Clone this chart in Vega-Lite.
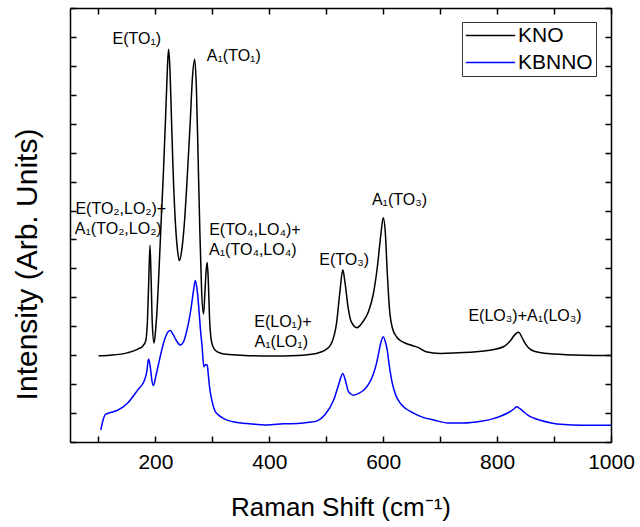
{
  "$schema": "https://vega.github.io/schema/vega-lite/v6.json",
  "width": 541,
  "height": 434,
  "autosize": "none",
  "padding": {"left": 70, "top": 8, "right": 29, "bottom": 85},
  "background": "white",
  "config": {
    "view": {"stroke": null},
    "font": "Liberation Sans",
    "axis": {"grid": false, "domainColor": "black", "domainWidth": 1.5, "tickColor": "black", "tickWidth": 1.5, "labelColor": "black", "titleColor": "black", "titleFontWeight": "normal", "labelFont": "Liberation Sans", "titleFont": "Liberation Sans"}
  },
  "datasets": {
    "spec": [
      {"x": 100, "y": 2.98, "s": "KNO"}, {"x": 120, "y": 3.0, "s": "KNO"}, {"x": 150, "y": 3.08, "s": "KNO"}, {"x": 170, "y": 3.22, "s": "KNO"}, {"x": 178, "y": 3.32, "s": "KNO"}, {"x": 183, "y": 3.5, "s": "KNO"}, {"x": 186, "y": 4.2, "s": "KNO"}, {"x": 188, "y": 5.4, "s": "KNO"}, {"x": 190.5, "y": 6.8, "s": "KNO"}, {"x": 192.5, "y": 5.6, "s": "KNO"}, {"x": 194.5, "y": 4.1, "s": "KNO"}, {"x": 197.5, "y": 3.42, "s": "KNO"}, {"x": 200, "y": 3.8, "s": "KNO"}, {"x": 203, "y": 4.6, "s": "KNO"}, {"x": 206, "y": 5.8, "s": "KNO"}, {"x": 210, "y": 7.6, "s": "KNO"}, {"x": 214, "y": 9.3, "s": "KNO"}, {"x": 218, "y": 11.3, "s": "KNO"}, {"x": 221, "y": 12.9, "s": "KNO"}, {"x": 223, "y": 13.57, "s": "KNO"}, {"x": 225.5, "y": 12.9, "s": "KNO"}, {"x": 228, "y": 11.3, "s": "KNO"}, {"x": 231, "y": 9.4, "s": "KNO"}, {"x": 235, "y": 7.6, "s": "KNO"}, {"x": 239, "y": 6.6, "s": "KNO"}, {"x": 242, "y": 6.27, "s": "KNO"}, {"x": 246, "y": 6.6, "s": "KNO"}, {"x": 251, "y": 7.6, "s": "KNO"}, {"x": 256, "y": 9.2, "s": "KNO"}, {"x": 261, "y": 11.0, "s": "KNO"}, {"x": 265, "y": 12.6, "s": "KNO"}, {"x": 269, "y": 13.23, "s": "KNO"}, {"x": 272, "y": 12.2, "s": "KNO"}, {"x": 275, "y": 9.8, "s": "KNO"}, {"x": 278, "y": 7.3, "s": "KNO"}, {"x": 281, "y": 5.3, "s": "KNO"}, {"x": 284.5, "y": 4.42, "s": "KNO"}, {"x": 287, "y": 5.2, "s": "KNO"}, {"x": 289, "y": 5.9, "s": "KNO"}, {"x": 291, "y": 6.2, "s": "KNO"}, {"x": 293, "y": 5.5, "s": "KNO"}, {"x": 295, "y": 4.3, "s": "KNO"}, {"x": 297.5, "y": 3.6, "s": "KNO"}, {"x": 301, "y": 3.3, "s": "KNO"}, {"x": 308, "y": 3.12, "s": "KNO"}, {"x": 320, "y": 3.04, "s": "KNO"}, {"x": 350, "y": 3.0, "s": "KNO"}, {"x": 400, "y": 2.97, "s": "KNO"}, {"x": 450, "y": 2.99, "s": "KNO"}, {"x": 480, "y": 3.05, "s": "KNO"}, {"x": 500, "y": 3.2, "s": "KNO"}, {"x": 510, "y": 3.45, "s": "KNO"}, {"x": 518, "y": 4.1, "s": "KNO"}, {"x": 524, "y": 5.2, "s": "KNO"}, {"x": 529, "y": 5.95, "s": "KNO"}, {"x": 533, "y": 5.5, "s": "KNO"}, {"x": 538, "y": 4.7, "s": "KNO"}, {"x": 544, "y": 4.15, "s": "KNO"}, {"x": 554, "y": 3.95, "s": "KNO"}, {"x": 564, "y": 4.15, "s": "KNO"}, {"x": 574, "y": 4.5, "s": "KNO"}, {"x": 583, "y": 5.15, "s": "KNO"}, {"x": 590, "y": 6.1, "s": "KNO"}, {"x": 596, "y": 7.2, "s": "KNO"}, {"x": 600, "y": 7.75, "s": "KNO"}, {"x": 603.5, "y": 7.3, "s": "KNO"}, {"x": 607, "y": 5.9, "s": "KNO"}, {"x": 611, "y": 4.6, "s": "KNO"}, {"x": 616, "y": 3.95, "s": "KNO"}, {"x": 624, "y": 3.62, "s": "KNO"}, {"x": 635, "y": 3.45, "s": "KNO"}, {"x": 648, "y": 3.35, "s": "KNO"}, {"x": 660, "y": 3.28, "s": "KNO"}, {"x": 675, "y": 3.12, "s": "KNO"}, {"x": 700, "y": 3.06, "s": "KNO"}, {"x": 750, "y": 3.1, "s": "KNO"}, {"x": 790, "y": 3.18, "s": "KNO"}, {"x": 812, "y": 3.3, "s": "KNO"}, {"x": 824, "y": 3.52, "s": "KNO"}, {"x": 832, "y": 3.73, "s": "KNO"}, {"x": 838, "y": 3.79, "s": "KNO"}, {"x": 844, "y": 3.6, "s": "KNO"}, {"x": 850, "y": 3.38, "s": "KNO"}, {"x": 860, "y": 3.18, "s": "KNO"}, {"x": 875, "y": 3.09, "s": "KNO"}, {"x": 900, "y": 3.04, "s": "KNO"}, {"x": 950, "y": 3.0, "s": "KNO"}, {"x": 1000, "y": 2.99, "s": "KNO"},
      {"x": 104, "y": 0.41, "s": "KBNNO"}, {"x": 108, "y": 0.75, "s": "KBNNO"}, {"x": 112, "y": 0.95, "s": "KBNNO"}, {"x": 118, "y": 1.0, "s": "KBNNO"}, {"x": 134, "y": 1.1, "s": "KBNNO"}, {"x": 151, "y": 1.34, "s": "KBNNO"}, {"x": 169, "y": 1.8, "s": "KBNNO"}, {"x": 181, "y": 2.14, "s": "KBNNO"}, {"x": 185, "y": 2.45, "s": "KBNNO"}, {"x": 188, "y": 2.87, "s": "KBNNO"}, {"x": 191, "y": 2.6, "s": "KBNNO"}, {"x": 194, "y": 2.1, "s": "KBNNO"}, {"x": 196.5, "y": 1.95, "s": "KBNNO"}, {"x": 201, "y": 2.3, "s": "KBNNO"}, {"x": 207, "y": 2.83, "s": "KBNNO"}, {"x": 216, "y": 3.53, "s": "KBNNO"}, {"x": 222, "y": 3.8, "s": "KBNNO"}, {"x": 226, "y": 3.85, "s": "KBNNO"}, {"x": 231, "y": 3.72, "s": "KBNNO"}, {"x": 237, "y": 3.5, "s": "KBNNO"}, {"x": 244, "y": 3.35, "s": "KBNNO"}, {"x": 249, "y": 3.45, "s": "KBNNO"}, {"x": 254, "y": 3.76, "s": "KBNNO"}, {"x": 259, "y": 4.2, "s": "KBNNO"}, {"x": 263, "y": 4.68, "s": "KBNNO"}, {"x": 267, "y": 5.25, "s": "KBNNO"}, {"x": 270, "y": 5.58, "s": "KBNNO"}, {"x": 273, "y": 5.3, "s": "KBNNO"}, {"x": 276, "y": 4.68, "s": "KBNNO"}, {"x": 279, "y": 3.9, "s": "KBNNO"}, {"x": 282, "y": 3.29, "s": "KBNNO"}, {"x": 285, "y": 2.6, "s": "KBNNO"}, {"x": 288, "y": 2.68, "s": "KBNNO"}, {"x": 291, "y": 2.66, "s": "KBNNO"}, {"x": 293, "y": 2.3, "s": "KBNNO"}, {"x": 295, "y": 1.91, "s": "KBNNO"}, {"x": 299, "y": 1.45, "s": "KBNNO"}, {"x": 304, "y": 1.1, "s": "KBNNO"}, {"x": 311, "y": 0.93, "s": "KBNNO"}, {"x": 319, "y": 0.82, "s": "KBNNO"}, {"x": 336, "y": 0.7, "s": "KBNNO"}, {"x": 360, "y": 0.64, "s": "KBNNO"}, {"x": 396, "y": 0.59, "s": "KBNNO"}, {"x": 425, "y": 0.63, "s": "KBNNO"}, {"x": 450, "y": 0.64, "s": "KBNNO"}, {"x": 470, "y": 0.68, "s": "KBNNO"}, {"x": 484, "y": 0.73, "s": "KBNNO"}, {"x": 498, "y": 0.95, "s": "KBNNO"}, {"x": 513, "y": 1.45, "s": "KBNNO"}, {"x": 522, "y": 2.0, "s": "KBNNO"}, {"x": 529, "y": 2.37, "s": "KBNNO"}, {"x": 534, "y": 2.1, "s": "KBNNO"}, {"x": 539, "y": 1.74, "s": "KBNNO"}, {"x": 548, "y": 1.62, "s": "KBNNO"}, {"x": 557, "y": 1.68, "s": "KBNNO"}, {"x": 566, "y": 1.8, "s": "KBNNO"}, {"x": 576, "y": 2.05, "s": "KBNNO"}, {"x": 583, "y": 2.37, "s": "KBNNO"}, {"x": 588, "y": 2.7, "s": "KBNNO"}, {"x": 592, "y": 3.07, "s": "KBNNO"}, {"x": 596, "y": 3.45, "s": "KBNNO"}, {"x": 600, "y": 3.64, "s": "KBNNO"}, {"x": 604, "y": 3.45, "s": "KBNNO"}, {"x": 607, "y": 3.18, "s": "KBNNO"}, {"x": 611, "y": 2.6, "s": "KBNNO"}, {"x": 616, "y": 2.03, "s": "KBNNO"}, {"x": 622, "y": 1.62, "s": "KBNNO"}, {"x": 630, "y": 1.34, "s": "KBNNO"}, {"x": 640, "y": 1.15, "s": "KBNNO"}, {"x": 654, "y": 0.99, "s": "KBNNO"}, {"x": 670, "y": 0.85, "s": "KBNNO"}, {"x": 689, "y": 0.76, "s": "KBNNO"}, {"x": 713, "y": 0.66, "s": "KBNNO"}, {"x": 740, "y": 0.66, "s": "KBNNO"}, {"x": 772, "y": 0.72, "s": "KBNNO"}, {"x": 792, "y": 0.8, "s": "KBNNO"}, {"x": 807, "y": 0.9, "s": "KBNNO"}, {"x": 820, "y": 1.02, "s": "KBNNO"}, {"x": 830, "y": 1.15, "s": "KBNNO"}, {"x": 834, "y": 1.22, "s": "KBNNO"}, {"x": 840, "y": 1.15, "s": "KBNNO"}, {"x": 847, "y": 1.04, "s": "KBNNO"}, {"x": 854, "y": 0.93, "s": "KBNNO"}, {"x": 865, "y": 0.82, "s": "KBNNO"}, {"x": 877, "y": 0.74, "s": "KBNNO"}, {"x": 895, "y": 0.66, "s": "KBNNO"}, {"x": 912, "y": 0.61, "s": "KBNNO"}, {"x": 950, "y": 0.58, "s": "KBNNO"}, {"x": 1000, "y": 0.58, "s": "KBNNO"}
    ],
    "notes": [
      {"x": 167.4, "y": 13.92, "t": "E(TO₁)"},
      {"x": 337.6, "y": 13.35, "t": "A₁(TO₁)"},
      {"x": 139.2, "y": 8.05, "t": "E(TO₂,LO₂)+"},
      {"x": 134.7, "y": 7.36, "t": "A₁(TO₂,LO₂)"},
      {"x": 374.6, "y": 7.33, "t": "E(TO₄,LO₄)+"},
      {"x": 371, "y": 6.64, "t": "A₁(TO₄,LO₄)"},
      {"x": 424, "y": 4.16, "t": "E(LO₁)+"},
      {"x": 421, "y": 3.47, "t": "A₁(LO₁)"},
      {"x": 531.6, "y": 6.29, "t": "E(TO₃)"},
      {"x": 628.6, "y": 8.37, "t": "A₁(TO₃)"},
      {"x": 849, "y": 4.36, "t": "E(LO₃)+A₁(LO₃)"}
    ]
  },
  "layer": [
    {
      "data": {"name": "spec"},
      "mark": {"type": "line", "strokeWidth": 1.5, "interpolate": "monotone"},
      "encoding": {
        "x": {"field": "x", "type": "quantitative", "scale": {"domain": [50, 1000], "nice": false, "zero": false},
          "axis": {"orient": "bottom", "values": [100, 200, 300, 400, 500, 600, 700, 800, 900, 1000], "labelExpr": "datum.value % 200 == 0 ? format(datum.value, 'd') : ''", "labelFlush": false, "labelOverlap": false, "tickSize": -6, "labelFontSize": 21, "labelPadding": 15, "title": "Raman Shift (cm⁻¹)", "titleFontSize": 26, "titlePadding": 22}},
        "y": {"field": "y", "type": "quantitative", "scale": {"domain": [0, 15], "nice": false, "zero": false},
          "axis": {"orient": "left", "values": [0, 1, 2, 3, 4, 5, 6, 7, 8, 9, 10, 11, 12, 13, 14, 15], "labels": false, "tickSize": -6, "title": "Intensity (Arb. Units)", "titleFontSize": 30, "titleX": -43, "titleY": 256, "titleBaseline": "middle", "titleAlign": "center", "titleAngle": -90}},
        "color": {"field": "s", "type": "nominal", "scale": {"domain": ["KNO", "KBNNO"], "range": ["#000000", "#0000ff"]},
          "legend": {"title": null, "orient": "none", "legendX": 392, "legendY": 14, "symbolType": "M-2.6,0H2.6", "symbolSize": 361, "symbolStrokeWidth": 1.5, "symbolOffset": 15, "labelFontSize": 21, "labelOffset": 17, "labelColor": "black", "padding": 3, "rowPadding": 5, "strokeColor": "#333333", "fillColor": "white", "labelFont": "Liberation Sans"}}
      }
    },
    {
      "data": {"name": "notes"},
      "mark": {"type": "text", "fontSize": 16, "align": "center", "baseline": "middle", "color": "black", "font": "Liberation Sans"},
      "encoding": {
        "x": {"field": "x", "type": "quantitative", "scale": {"domain": [50, 1000], "nice": false, "zero": false},
          "axis": {"orient": "top", "values": [100, 200, 300, 400, 500, 600, 700, 800, 900, 1000], "labels": false, "tickSize": -6, "title": null}},
        "y": {"field": "y", "type": "quantitative", "scale": {"domain": [0, 15], "nice": false, "zero": false},
          "axis": {"orient": "right", "values": [0, 1, 2, 3, 4, 5, 6, 7, 8, 9, 10, 11, 12, 13, 14, 15], "labels": false, "tickSize": -6, "title": null}},
        "text": {"field": "t"}
      }
    }
  ],
  "resolve": {"axis": {"x": "independent", "y": "independent"}}
}
